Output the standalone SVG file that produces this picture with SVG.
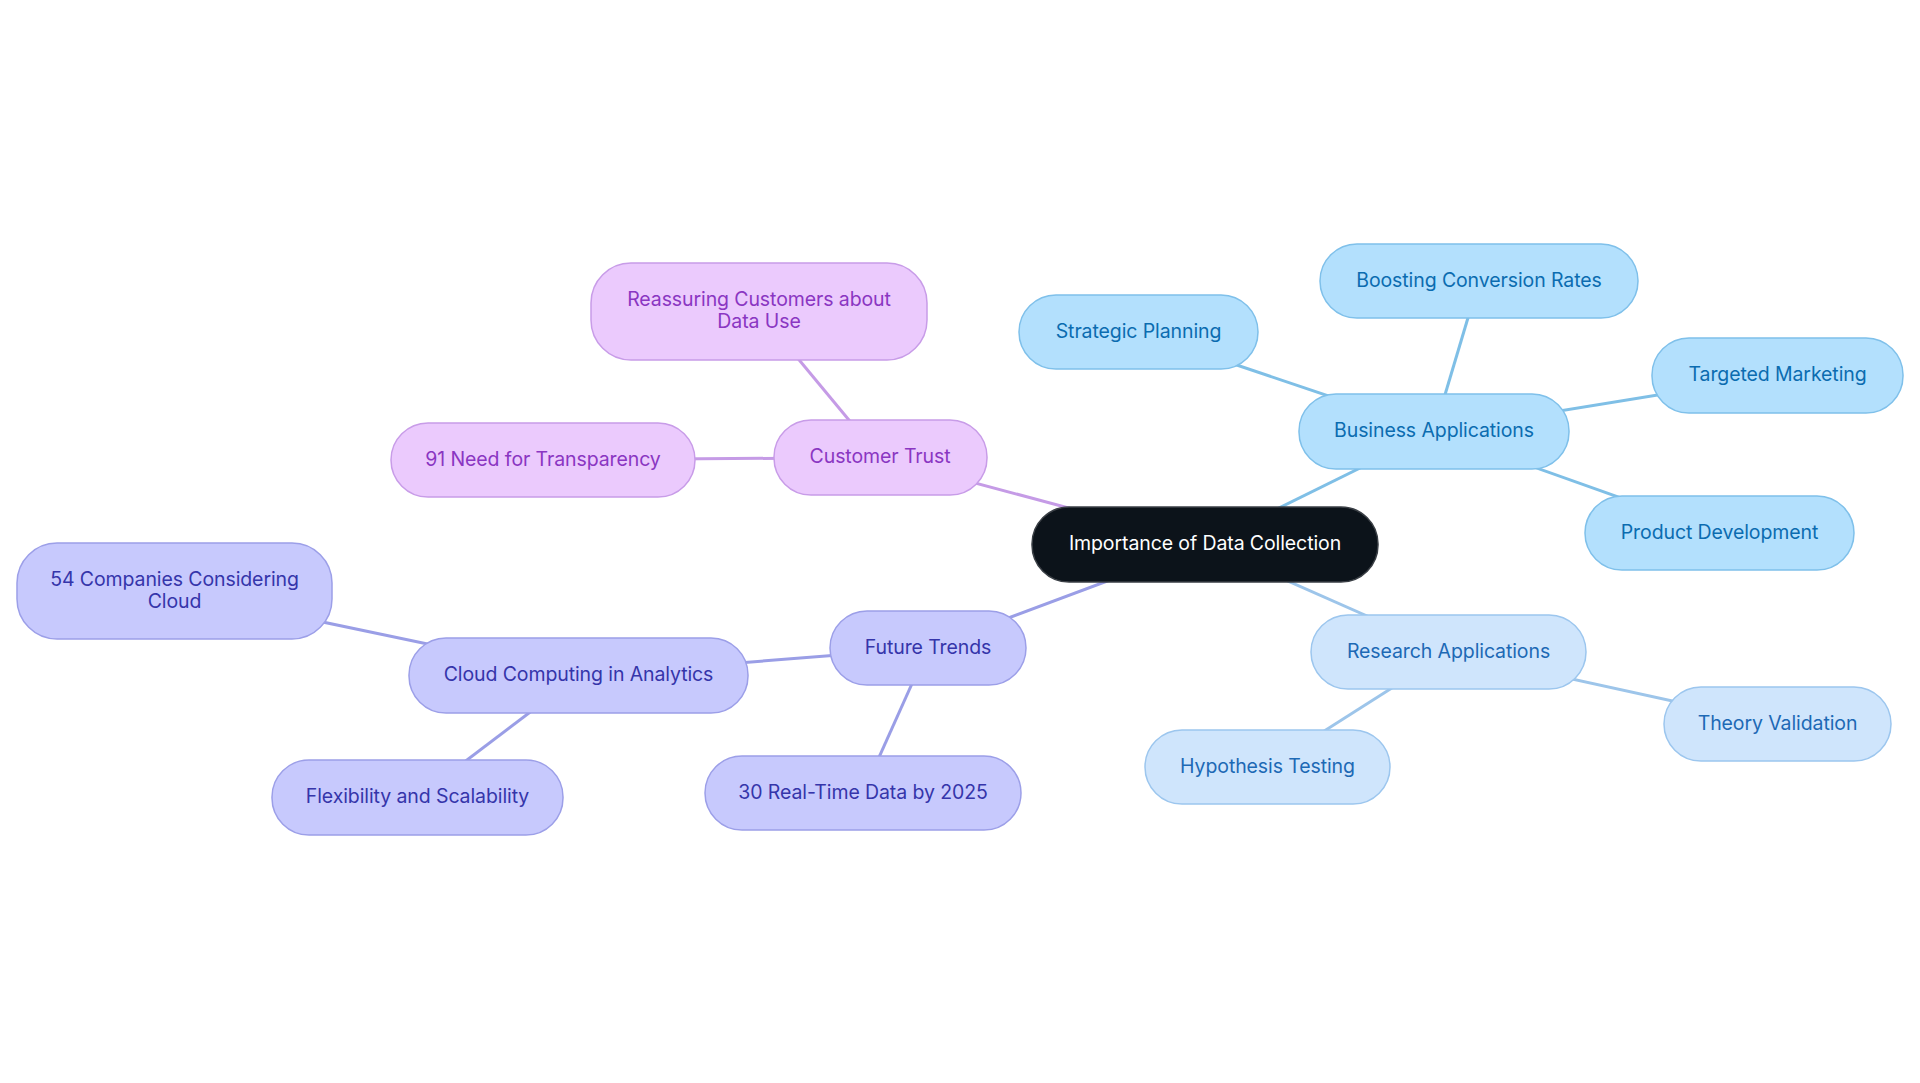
<svg xmlns="http://www.w3.org/2000/svg" width="1920" height="1083" viewBox="0 0 1920 1083">
<style>
text{font-family:Inter,"Noto Sans","Liberation Sans",sans-serif;font-size:19.5px;letter-spacing:-0.1px;text-anchor:middle;dominant-baseline:central}
.c rect{fill:#0c131a;stroke:#3a3f45;stroke-width:1.5}
.c text{fill:#ffffff}
.b rect{fill:#b3e0fd;stroke:#7fc0ea;stroke-width:1.5}
.b text{fill:#0b6cb0}
.r rect{fill:#cfe5fc;stroke:#9cc6ee;stroke-width:1.5}
.r text{fill:#1d69b5}
.p rect{fill:#ebcafd;stroke:#c89ce8;stroke-width:1.5}
.p text{fill:#8a36c2}
.v rect{fill:#c7c9fd;stroke:#9c9fe8;stroke-width:1.5}
.v text{fill:#3535aa}
#edges line{stroke-width:3;fill:none}
.eb{stroke:#7fbfe6}
.er{stroke:#9dc5ea}
.ep{stroke:#c59be6}
.ev{stroke:#9a9ee6}
</style>
<rect width="1920" height="1083" fill="#ffffff"/>
<g id="edges">
<line class="eb" x1="1205" y1="544.5" x2="1434" y2="431.5"/>
<line class="eb" x1="1434" y1="431.5" x2="1138.5" y2="332"/>
<line class="eb" x1="1434" y1="431.5" x2="1479" y2="281"/>
<line class="eb" x1="1434" y1="431.5" x2="1777.5" y2="375.5"/>
<line class="eb" x1="1434" y1="431.5" x2="1719.5" y2="533"/>
<line class="er" x1="1205" y1="544.5" x2="1448.5" y2="652"/>
<line class="er" x1="1448.5" y1="652" x2="1777.5" y2="724"/>
<line class="er" x1="1448.5" y1="652" x2="1267.5" y2="767"/>
<line class="ep" x1="1205" y1="544.5" x2="880" y2="457.5"/>
<line class="ep" x1="880" y1="457.5" x2="759" y2="311.5"/>
<line class="ep" x1="880" y1="457.5" x2="543" y2="460"/>
<line class="ev" x1="1205" y1="544.5" x2="928" y2="648"/>
<line class="ev" x1="928" y1="648" x2="578.5" y2="675.5"/>
<line class="ev" x1="928" y1="648" x2="863" y2="793"/>
<line class="ev" x1="578.5" y1="675.5" x2="174.5" y2="591"/>
<line class="ev" x1="578.5" y1="675.5" x2="417.5" y2="797.5"/>
</g>
<g id="n-center" class="c"><rect x="1032" y="507" width="346" height="75" rx="37"/><text x="1205" y="543">Importance of Data Collection</text></g>
<g id="n-business" class="b"><rect x="1299" y="394" width="270" height="75" rx="37"/><text x="1434" y="430">Business Applications</text></g>
<g id="n-strategic" class="b"><rect x="1019" y="295" width="239" height="74" rx="37"/><text x="1138.5" y="330.5">Strategic Planning</text></g>
<g id="n-boosting" class="b"><rect x="1320" y="244" width="318" height="74" rx="37"/><text x="1479" y="279.5">Boosting Conversion Rates</text></g>
<g id="n-targeted" class="b"><rect x="1652" y="338" width="251" height="75" rx="37"/><text x="1777.5" y="374">Targeted Marketing</text></g>
<g id="n-product" class="b"><rect x="1585" y="496" width="269" height="74" rx="37"/><text x="1719.5" y="531.5">Product Development</text></g>
<g id="n-research" class="r"><rect x="1311" y="615" width="275" height="74" rx="37"/><text x="1448.5" y="650.5">Research Applications</text></g>
<g id="n-theory" class="r"><rect x="1664" y="687" width="227" height="74" rx="37"/><text x="1777.5" y="722.5">Theory Validation</text></g>
<g id="n-hypothesis" class="r"><rect x="1145" y="730" width="245" height="74" rx="37"/><text x="1267.5" y="765.5">Hypothesis Testing</text></g>
<g id="n-trust" class="p"><rect x="774" y="420" width="213" height="75" rx="37"/><text x="880" y="456">Customer Trust</text></g>
<g id="n-reassuring" class="p"><rect x="591" y="263" width="336" height="97" rx="40"/><text x="759" y="298.5">Reassuring Customers about</text><text x="759" y="320.5">Data Use</text></g>
<g id="n-transparency" class="p"><rect x="391" y="423" width="304" height="74" rx="37"/><text x="543" y="458.5">91 Need for Transparency</text></g>
<g id="n-future" class="v"><rect x="830" y="611" width="196" height="74" rx="37"/><text x="928" y="646.5">Future Trends</text></g>
<g id="n-cloud" class="v"><rect x="409" y="638" width="339" height="75" rx="37"/><text x="578.5" y="674">Cloud Computing in Analytics</text></g>
<g id="n-companies" class="v"><rect x="17" y="543" width="315" height="96" rx="40"/><text x="174.5" y="578.5">54 Companies Considering</text><text x="174.5" y="600.5">Cloud</text></g>
<g id="n-flex" class="v"><rect x="272" y="760" width="291" height="75" rx="37"/><text x="417.5" y="796">Flexibility and Scalability</text></g>
<g id="n-realtime" class="v"><rect x="705" y="756" width="316" height="74" rx="37"/><text x="863" y="791.5">30 Real-Time Data by 2025</text></g>
</svg>
